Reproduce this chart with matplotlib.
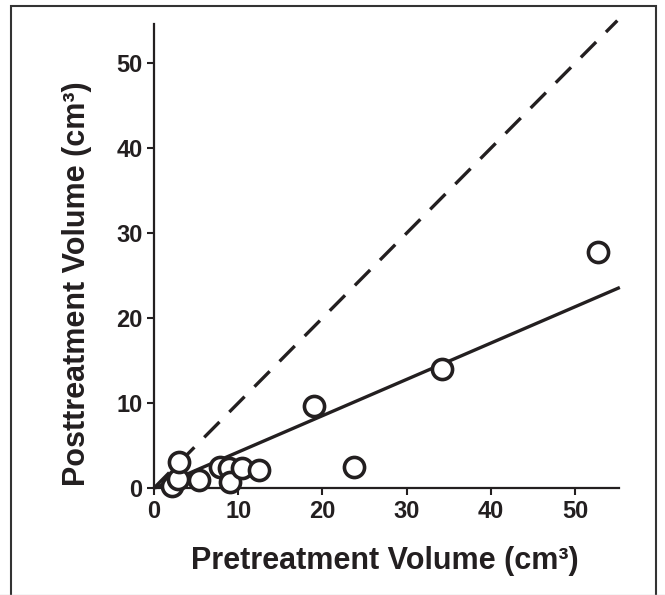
import matplotlib
matplotlib.use('Agg')
import matplotlib.pyplot as plt
from matplotlib.patches import Rectangle
from matplotlib.lines import Line2D

# 数据：治疗前/治疗后体积 (cm3)
pre_volume = [2.1, 2.9, 3.0, 5.4, 7.8, 8.9, 9.0, 10.4, 12.5, 19.0, 23.8, 34.2, 52.7]
post_volume = [0.2, 1.1, 3.1, 0.9, 2.5, 2.3, 0.75, 2.3, 2.1, 9.6, 2.5, 14.05, 27.8]

# 回归线和等值线的端点
fit_x = [0.1, 55.3]
fit_y = [0.0, 23.6]
identity_x = [0.0, 55.0]
identity_y = [0.0, 55.0]

x_ticks = [0, 10, 20, 30, 40, 50]
y_ticks = [0, 10, 20, 30, 40, 50]

INK = '#231f20'

plt.rcParams['font.family'] = ['Liberation Sans', 'DejaVu Sans']
plt.rcParams['font.weight'] = 'bold'

fig = plt.figure(figsize=(6.65, 5.95), dpi=100)
ax = fig.add_axes([154 / 665, 1 - 488 / 595, 465 / 665, 464 / 595])

ax.plot(identity_x, identity_y, color=INK, lw=2.4, dashes=(6.5, 4.2),
        solid_capstyle='butt', clip_on=False, zorder=2)
ax.plot(fit_x, fit_y, color=INK, lw=2.4, solid_capstyle='butt',
        clip_on=False, zorder=2)
ax.plot(pre_volume, post_volume, linestyle='none', marker='o',
        markersize=14.5, markerfacecolor='white', markeredgecolor=INK,
        markeredgewidth=2.6, clip_on=False, zorder=3)

ax.set_xlim(0, 55.2)
ax.set_ylim(0, 54.6)
ax.set_xticks(x_ticks)
ax.set_yticks(y_ticks)

for side in ['top', 'right']:
    ax.spines[side].set_visible(False)
for side in ['left', 'bottom']:
    ax.spines[side].set_linewidth(1.6)
    ax.spines[side].set_color(INK)
    ax.spines[side].set_zorder(1)

ax.tick_params(direction='out', length=4.8, width=1.5, colors=INK,
               labelsize=17, pad=3.5)
for lab in ax.get_xticklabels() + ax.get_yticklabels():
    lab.set_fontweight('bold')

fig.text(0.579, 0.0571, 'Pretreatment Volume (cm³)', fontsize=22,
         fontweight='bold', color=INK, ha='center', va='center')
fig.text(0.1158, 0.5235, 'Posttreatment Volume (cm³)', fontsize=22,
         fontweight='bold', color=INK, ha='center', va='center',
         rotation=90)

# 外框
fig.patches.append(Rectangle((11 / 665, -0.05), 645 / 665, 1.05 - 6 / 595,
                             transform=fig.transFigure, fill=False,
                             edgecolor='#333333', linewidth=1.5))
fig.lines.append(Line2D([0, 1], [0.5 / 595, 0.5 / 595],
                        transform=fig.transFigure, color='#cccccc', lw=1))

fig.savefig('out.png', dpi=100)
